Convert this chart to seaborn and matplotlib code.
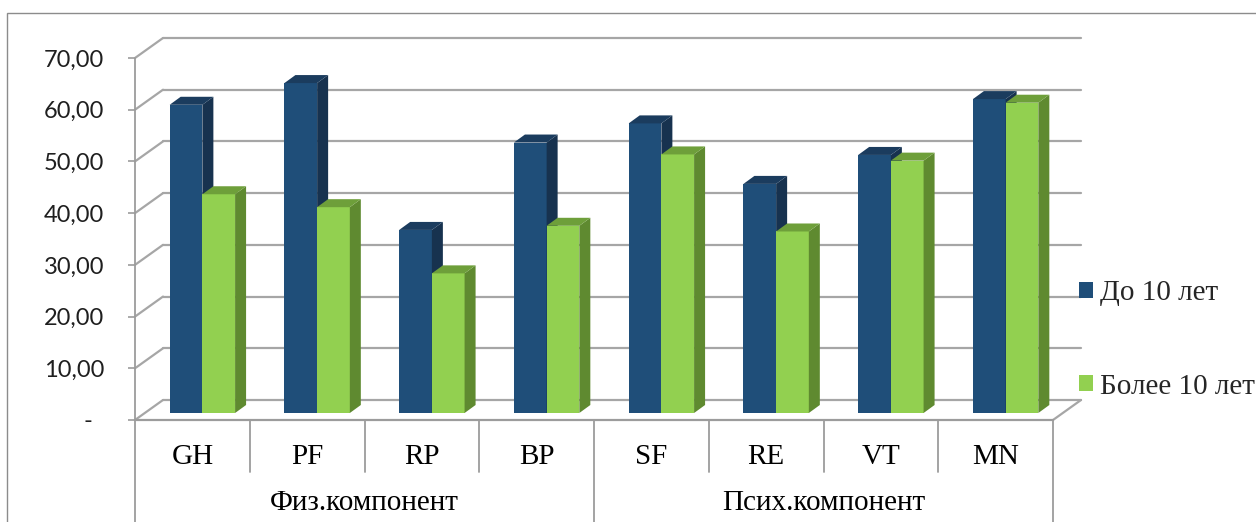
import numpy as np
import pandas as pd
import matplotlib
matplotlib.use("Agg")
import matplotlib.pyplot as plt
import seaborn as sns
from matplotlib.patches import Polygon, Rectangle

categories = ["GH", "PF", "RP", "BP", "SF", "RE", "VT", "MN"]
groups = ["Физ.компонент", "Псих.компонент"]
series_names = ["До 10 лет", "Более 10 лет"]
under_10 = [59.6, 63.8, 35.4, 52.3, 56.0, 44.3, 49.9, 60.7]
over_10 = [42.3, 39.8, 27.0, 36.2, 50.0, 35.1, 48.8, 60.0]
y_ticks = [0, 10, 20, 30, 40, 50, 60, 70]
y_labels = ["-  ", "10,00", "20,00", "30,00", "40,00", "50,00", "60,00", "70,00"]

front = {"До 10 лет": "#1F4E79", "Более 10 лет": "#92D050"}
side = {"До 10 лет": "#17324F", "Более 10 лет": "#5F8A30"}
top = {"До 10 лет": "#1B3C5E", "Более 10 лет": "#6E9F3A"}
grid_c = "#A6A6A6"
axis_c = "#9C9C9C"

sns.set_theme(style="white")
plt.rcParams["font.family"] = ["Liberation Serif", "DejaVu Serif"]

df = pd.DataFrame({
    "cat": categories * 2,
    "val": under_10 + over_10,
    "series": [series_names[0]] * len(categories) + [series_names[1]] * len(categories),
})

W, H = 1256, 522
fig = plt.figure(figsize=(W / 100, H / 100), dpi=100)
L, R, T, B = 135, 1053, 58, 420
ax = fig.add_axes([L / W, 1 - B / H, (R - L) / W, (B - T) / H])

sns.barplot(data=df, x="cat", y="val", hue="series", order=categories,
            hue_order=series_names, palette=front, width=0.57, saturation=1,
            linewidth=0, ax=ax)
ax.set_xlim(-0.5, len(categories) - 0.5)
ax.set_ylim(0, 70)
for s in ax.spines.values():
    s.set_visible(False)
ax.set_xlabel("")
ax.set_ylabel("")

px_x = (R - L) / len(categories)
px_y = (B - T) / 70.0

# bars sit a bit deeper than the front axis, then get a side and a top face
sx, sy = 10 / px_x, 7 / px_y
dx, dy = 11 / px_x, 8 / px_y
for ci, cont in enumerate(ax.containers):
    name = series_names[ci]
    for rect in cont:
        x0 = rect.get_x() + sx
        w = rect.get_width()
        h = rect.get_height()
        rect.set_x(x0)
        rect.set_y(sy)
        rect.set_zorder(3 + ci * 3)
        rect.set_clip_on(False)
        x1, y0, y1 = x0 + w, sy, sy + h
        ax.add_patch(Polygon([(x1, y0), (x1 + dx, y0 + dy), (x1 + dx, y1 + dy), (x1, y1)],
                             closed=True, fc=side[name], ec="none", zorder=4 + ci * 3, clip_on=False))
        ax.add_patch(Polygon([(x0, y1), (x1, y1), (x1 + dx, y1 + dy), (x0 + dx, y1 + dy)],
                             closed=True, fc=top[name], ec="none", zorder=5 + ci * 3, clip_on=False))

# back wall gridlines and floor
bx, by = 28 / px_x, 20 / px_y
xl, xr = -0.5, len(categories) - 0.5
for v in y_ticks:
    ax.plot([xl + bx, xr + bx], [v + by, v + by], color=grid_c, lw=1.6, zorder=1, clip_on=False)
    ax.plot([xl, xl + bx], [v, v + by], color=grid_c, lw=1.6, zorder=1, clip_on=False)
ax.plot([xr, xr + bx], [0, by], color=grid_c, lw=1.6, zorder=1, clip_on=False)

# front axis lines and category separators
bottom = -(H - B) / px_y - 1
sep = -52 / px_y
ax.plot([xl, xl], [70, bottom], color=axis_c, lw=1.3, zorder=2, clip_on=False)
ax.plot([xl, xr], [0, 0], color=axis_c, lw=1.6, zorder=2, clip_on=False)
ax.plot([xr, xr], [0, bottom], color=axis_c, lw=1.3, zorder=2, clip_on=False)
for k in range(1, len(categories)):
    end = bottom if k == 4 else sep
    ax.plot([k - 0.5, k - 0.5], [0, end], color=axis_c, lw=1.3, zorder=2, clip_on=False)

ax.set_yticks(y_ticks, y_labels)
ax.tick_params(axis="y", left=True, length=5, width=1.2, color=axis_c, pad=17,
               labelsize=17, labelcolor="#1F1F1F")
for lbl in ax.get_yticklabels():
    lbl.set_fontfamily(["Lato", "DejaVu Sans"])
ax.set_xticks(range(len(categories)), categories)
ax.tick_params(axis="x", bottom=False, length=0, pad=17, labelsize=21, labelcolor="black")

gy = -(503 - B) / px_y
ax.text(1.5, gy, groups[0], ha="center", va="center", fontsize=21, color="black")
ax.text(5.5, gy, groups[1], ha="center", va="center", fontsize=21, color="black")

old = ax.get_legend()
handles = old.legend_handles
labels = [t.get_text() for t in old.texts]
old.remove()
fig.legend(handles, labels, loc="center left", bbox_to_anchor=(1079 / W, 1 - 340 / H),
           frameon=False, borderpad=0, borderaxespad=0, handlelength=0.48,
           handleheight=0.48, handletextpad=0.24, labelspacing=2.3, fontsize=21)

fig.add_artist(Rectangle((7 / W, -0.1), 2, 1.1 - 13 / H, transform=fig.transFigure,
                         fill=False, ec="#8C8C8C", lw=1))

fig.savefig("out.png", dpi=100)
